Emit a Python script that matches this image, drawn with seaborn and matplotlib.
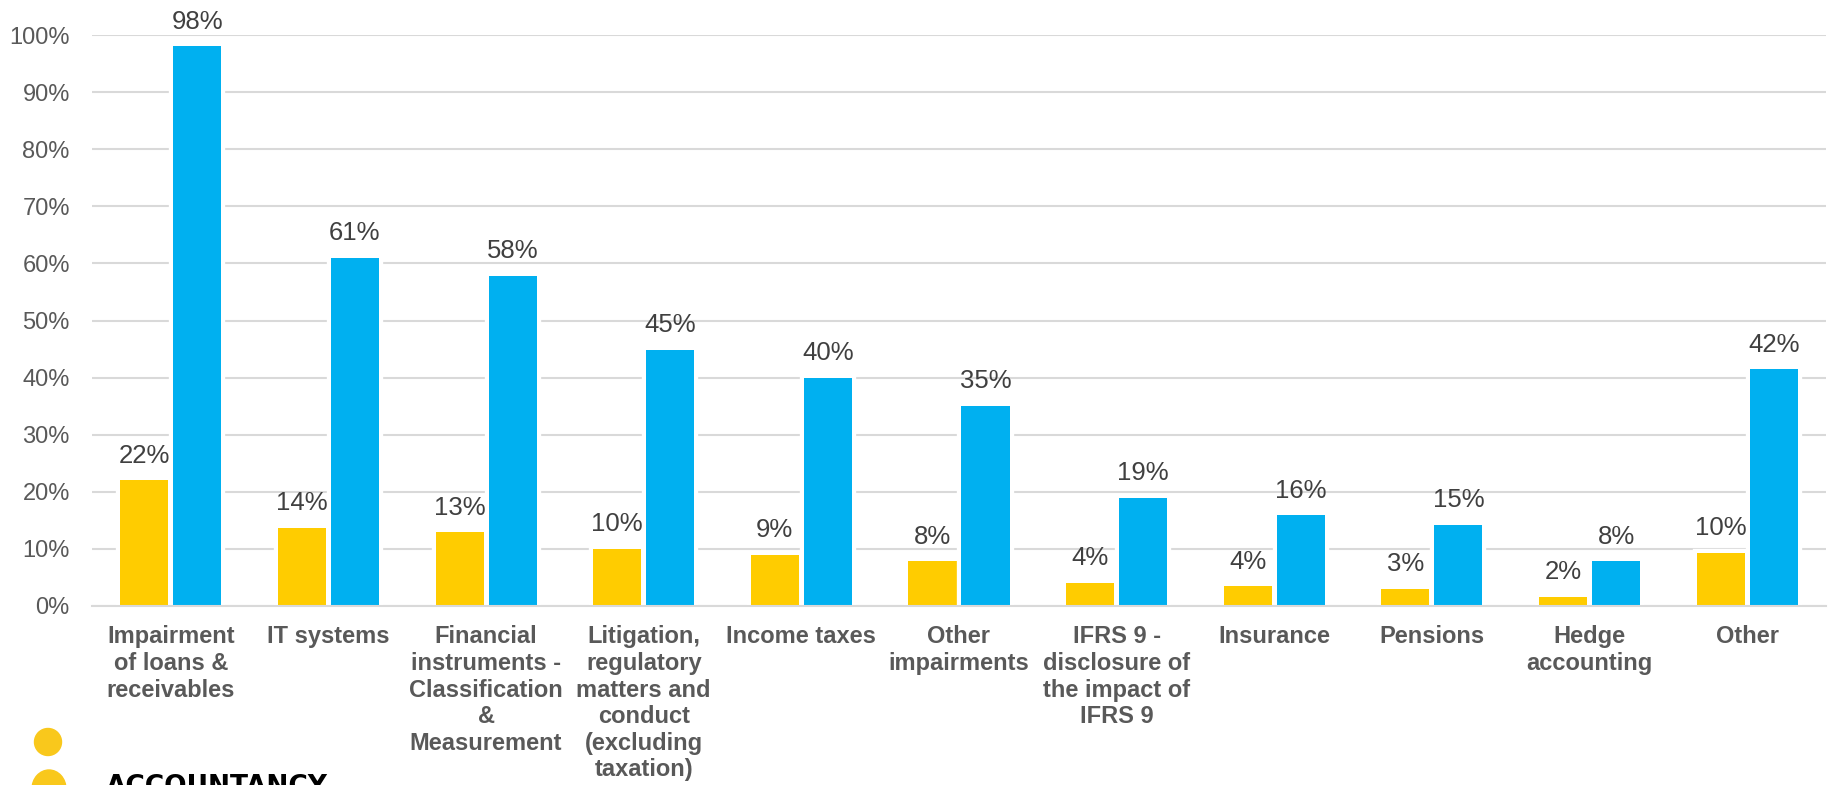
import numpy as np
import pandas as pd
import matplotlib
matplotlib.use("Agg")
import matplotlib.pyplot as plt
import matplotlib.patheffects as pe
from matplotlib.patches import Ellipse
import seaborn as sns

# ---- data ----
categories = [
    "Impairment\nof loans &\nreceivables",
    "IT systems",
    "Financial\ninstruments -\nClassification\n&\nMeasurement",
    "Litigation,\nregulatory\nmatters and\nconduct\n(excluding\ntaxation)",
    "Income taxes",
    "Other\nimpairments",
    "IFRS 9 -\ndisclosure of\nthe impact of\nIFRS 9",
    "Insurance",
    "Pensions",
    "Hedge\naccounting",
    "Other",
]
series_names = ["Series 1", "Series 2"]
yellow_values = [22.0, 13.7, 12.9, 10.0, 9.0, 7.8, 4.1, 3.5, 3.0, 1.6, 9.3]
blue_values = [98.0, 61.0, 57.8, 44.9, 40.0, 35.1, 19.0, 15.9, 14.2, 7.8, 41.5]
yellow_labels = ["22%", "14%", "13%", "10%", "9%", "8%", "4%", "4%", "3%", "2%", "10%"]
blue_labels = ["98%", "61%", "58%", "45%", "40%", "35%", "19%", "16%", "15%", "8%", "42%"]
y_ticks = [0, 10, 20, 30, 40, 50, 60, 70, 80, 90, 100]
y_tick_labels = [f"{t}%" for t in y_ticks]

colors = ["#FFCC00", "#00B0F0"]
grid_color = "#D9D9D9"

df = pd.DataFrame({
    "category": categories * 2,
    "series": [series_names[0]] * len(categories) + [series_names[1]] * len(categories),
    "value": yellow_values + blue_values,
})

sns.set_style("white")
plt.rcParams["font.family"] = ["Liberation Sans", "DejaVu Sans"]

W, H = 1829, 785
fig = plt.figure(figsize=(W / 100, H / 100), dpi=100)
ax = fig.add_axes([92 / W, 1 - 606 / H, 1734 / W, (606 - 35) / H])

sns.barplot(data=df, x="category", y="value", hue="series",
            order=categories, hue_order=series_names, palette=colors,
            width=0.673, gap=0.094, saturation=1, legend=False, ax=ax,
            linewidth=0, zorder=2)

for cont in ax.containers:
    for p in cont:
        p.set_path_effects([pe.withStroke(linewidth=6, foreground="white")])

for cont, labs in zip(ax.containers, [yellow_labels, blue_labels]):
    ax.bar_label(cont, labels=labs, padding=9, fontsize=18.5, color="#404040")

ax.set_ylim(0, 100)
ax.set_xlim(-0.5, len(categories) - 0.5)
ax.set_yticks(y_ticks)
ax.set_yticklabels(y_tick_labels)
ax.set_xlabel("")
ax.set_ylabel("")

ax.yaxis.grid(True, color=grid_color, linewidth=1.5, zorder=0)
ax.set_axisbelow(True)
for s in ["top", "right", "left"]:
    ax.spines[s].set_visible(False)
ax.spines["bottom"].set_color(grid_color)
ax.spines["bottom"].set_linewidth(1.5)

ax.tick_params(axis="y", length=0, pad=16, labelsize=17, labelcolor="#595959")
ax.tick_params(axis="x", which="major", length=0, pad=14, labelsize=17, labelcolor="#595959")
ax.set_xticks(np.arange(-0.5, len(categories), 1), minor=True)
ax.tick_params(axis="x", which="minor", length=6, width=1.5, color=grid_color)
for lab in ax.get_xticklabels():
    lab.set_fontweight("bold")
    lab.set_linespacing(1.2)
    lab.set_horizontalalignment("center")

# logo (decoration)
logo_color = "#F9C81C"
fig.patches.append(Ellipse((48 / W, 1 - 742 / H), 27 / W, 27 / H, transform=fig.transFigure,
                           color=logo_color))
fig.patches.append(Ellipse((49 / W, 1 - 789 / H), 34 / W, 38 / H, transform=fig.transFigure,
                           color=logo_color))
fig.text(106 / W, 1 - 774 / H, "ACCOUNTANCY", fontsize=19, fontweight="bold",
         color="black", family="DejaVu Sans", ha="left", va="top")

fig.savefig("out.png", dpi=100)
